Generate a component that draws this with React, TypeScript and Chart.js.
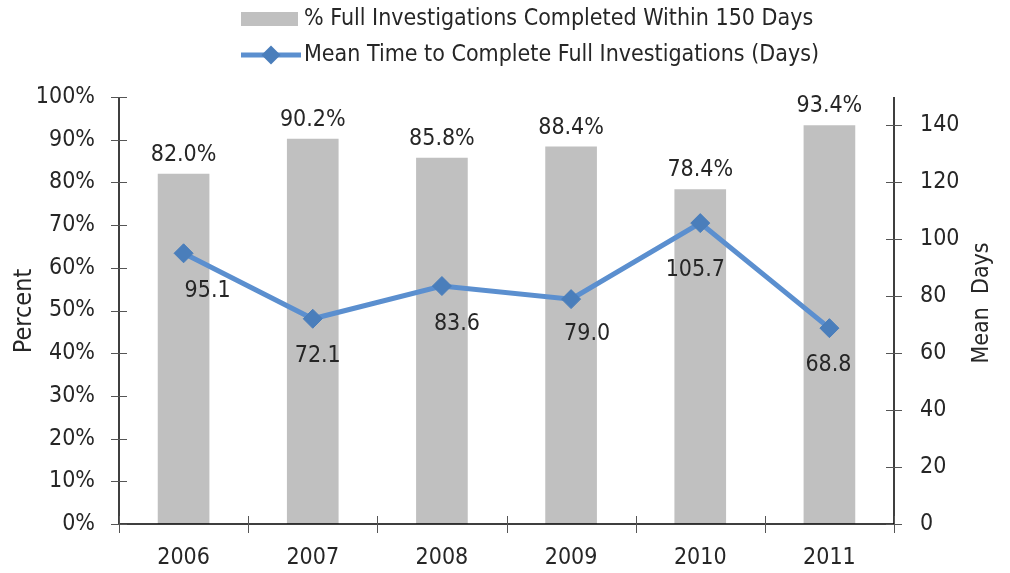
import React, { useEffect, useRef } from 'react';
import { Chart, registerables } from 'chart.js';

Chart.register(...registerables);

const years = ['2006', '2007', '2008', '2009', '2010', '2011'];
const pctCompleted = [82.0, 90.2, 85.8, 88.4, 78.4, 93.4];
const meanDays = [95.1, 72.1, 83.6, 79.0, 105.7, 68.8];
const leftTicks = [0, 10, 20, 30, 40, 50, 60, 70, 80, 90, 100];
const rightTicks = [0, 20, 40, 60, 80, 100, 120, 140];

const barLegend = '% Full Investigations Completed Within 150 Days';
const lineLegend = 'Mean Time to Complete Full Investigations (Days)';
const leftTitle = 'Percent';
const rightTitle = 'Mean  Days';

// label placement offsets (px) for the line value labels, relative to each point
const lineLabelOffsets = [
  [24, 38],
  [5, 37],
  [15, 38],
  [16, 35],
  [-5, 47],
  [-1, 37],
];

const FONT = "'DejaVu Sans Condensed', 'DejaVu Sans', sans-serif";
const FS = 23;
const TEXT = '#262626';
const BAR = '#c0c0c0';
const LINE = '#5b8fcf';
const MARK = '#4a7ebb';

function diamond(ctx: CanvasRenderingContext2D, x: number, y: number, r: number) {
  ctx.beginPath();
  ctx.moveTo(x, y - r);
  ctx.lineTo(x + r, y);
  ctx.lineTo(x, y + r);
  ctx.lineTo(x - r, y);
  ctx.closePath();
  ctx.fillStyle = MARK;
  ctx.fill();
}

const overlay = {
  id: 'overlay',
  afterDraw(chart: any) {
    const ctx: CanvasRenderingContext2D = chart.ctx;
    const ca = chart.chartArea;
    const ys = chart.scales.y;
    const y1 = chart.scales.y1;
    ctx.save();

    // axes
    ctx.strokeStyle = '#000';
    ctx.lineWidth = 1.5;
    ctx.beginPath();
    ctx.moveTo(ca.left, ca.top);
    ctx.lineTo(ca.left, ca.bottom);
    ctx.lineTo(ca.right, ca.bottom);
    ctx.moveTo(ca.right, ca.top);
    ctx.lineTo(ca.right, ca.bottom);
    ctx.stroke();

    // crossing tick marks
    ctx.strokeStyle = '#555';
    ctx.lineWidth = 1;
    ctx.beginPath();
    leftTicks.forEach((v) => {
      const y = Math.round(ys.getPixelForValue(v)) + 0.5;
      ctx.moveTo(ca.left - 8, y);
      ctx.lineTo(ca.left + 8, y);
    });
    rightTicks.forEach((v) => {
      const y = Math.round(y1.getPixelForValue(v)) + 0.5;
      ctx.moveTo(ca.right - 8, y);
      ctx.lineTo(ca.right + 8, y);
    });
    for (let i = 0; i <= years.length; i++) {
      const x = Math.round(ca.left + (i * (ca.right - ca.left)) / years.length) + 0.5;
      ctx.moveTo(x, ca.bottom - 8);
      ctx.lineTo(x, ca.bottom + 9);
    }
    ctx.stroke();

    ctx.font = `${FS}px ${FONT}`;
    ctx.fillStyle = TEXT;

    // bar labels
    const barMeta = chart.getDatasetMeta(0);
    ctx.textAlign = 'center';
    ctx.textBaseline = 'middle';
    barMeta.data.forEach((el: any, i: number) => {
      ctx.fillText(pctCompleted[i].toFixed(1) + '%', el.x, el.y - 19);
    });

    // line labels
    const lineMeta = chart.getDatasetMeta(1);
    lineMeta.data.forEach((el: any, i: number) => {
      const [dx, dy] = lineLabelOffsets[i];
      ctx.fillText(meanDays[i].toFixed(1), el.x + dx, el.y + dy);
    });

    // axis titles
    ctx.save();
    ctx.font = `25px ${FONT}`;
    ctx.translate(24, 311);
    ctx.rotate(-Math.PI / 2);
    ctx.fillText(leftTitle, 0, 0);
    ctx.restore();
    ctx.save();
    ctx.translate(982, 303);
    ctx.rotate(-Math.PI / 2);
    ctx.fillText(rightTitle, 0, 0);
    ctx.restore();

    // legend
    ctx.fillStyle = BAR;
    ctx.fillRect(241, 12, 57, 14);
    ctx.strokeStyle = LINE;
    ctx.lineWidth = 5;
    ctx.beginPath();
    ctx.moveTo(241, 55);
    ctx.lineTo(301, 55);
    ctx.stroke();
    diamond(ctx, 271, 55, 9.5);
    ctx.fillStyle = TEXT;
    ctx.textAlign = 'left';
    ctx.fillText(barLegend, 304, 19);
    ctx.fillText(lineLegend, 304, 55);

    ctx.restore();
  },
};

export default function App() {
  const ref = useRef<HTMLCanvasElement>(null);
  useEffect(() => {
    if (!ref.current) return;
    const tickFont = { family: FONT, size: FS };
    const chart = new Chart(ref.current, {
      type: 'bar',
      data: {
        labels: years,
        datasets: [
          {
            type: 'bar',
            label: barLegend,
            data: pctCompleted,
            backgroundColor: BAR,
            borderWidth: 0,
            categoryPercentage: 1,
            barPercentage: 0.4,
            yAxisID: 'y',
            order: 2,
          },
          {
            type: 'line',
            label: lineLegend,
            data: meanDays,
            borderColor: LINE,
            borderWidth: 5,
            pointStyle: 'rectRot',
            pointRadius: 9.5,
            pointBackgroundColor: MARK,
            pointBorderColor: MARK,
            pointBorderWidth: 1,
            tension: 0,
            yAxisID: 'y1',
            order: 1,
          } as any,
        ],
      },
      options: {
        responsive: false,
        animation: false,
        devicePixelRatio: 1,
        layout: { padding: { top: 97, left: 0, right: 0, bottom: 0 } },
        plugins: { legend: { display: false }, tooltip: { enabled: false } },
        scales: {
          x: {
            type: 'category',
            grid: { display: false, drawTicks: false },
            border: { display: false },
            ticks: { font: tickFont, color: TEXT, padding: 20 },
            afterFit: (s: any) => {
              s.height = 49;
            },
          },
          y: {
            type: 'linear',
            position: 'left',
            min: 0,
            max: 100,
            grid: { display: false, drawTicks: false },
            border: { display: false },
            ticks: {
              stepSize: 10,
              font: tickFont,
              color: TEXT,
              padding: 24,
              callback: (v: any) => v + '%',
            },
            afterFit: (s: any) => {
              s.width = 119;
            },
          },
          y1: {
            type: 'linear',
            position: 'right',
            min: 0,
            max: 150,
            grid: { display: false, drawTicks: false },
            border: { display: false },
            ticks: { stepSize: 20, font: tickFont, color: TEXT, padding: 26 },
            afterBuildTicks: (s: any) => {
              s.ticks = s.ticks.filter((t: any) => rightTicks.includes(t.value));
            },
            afterFit: (s: any) => {
              s.width = 116;
            },
          },
        },
      } as any,
      plugins: [overlay],
    });
    return () => chart.destroy();
  }, []);
  return (
    <div style={{ position: 'absolute', left: 0, top: 0, width: 1010, height: 573 }}>
      <canvas ref={ref} width={1010} height={573} />
    </div>
  );
}
